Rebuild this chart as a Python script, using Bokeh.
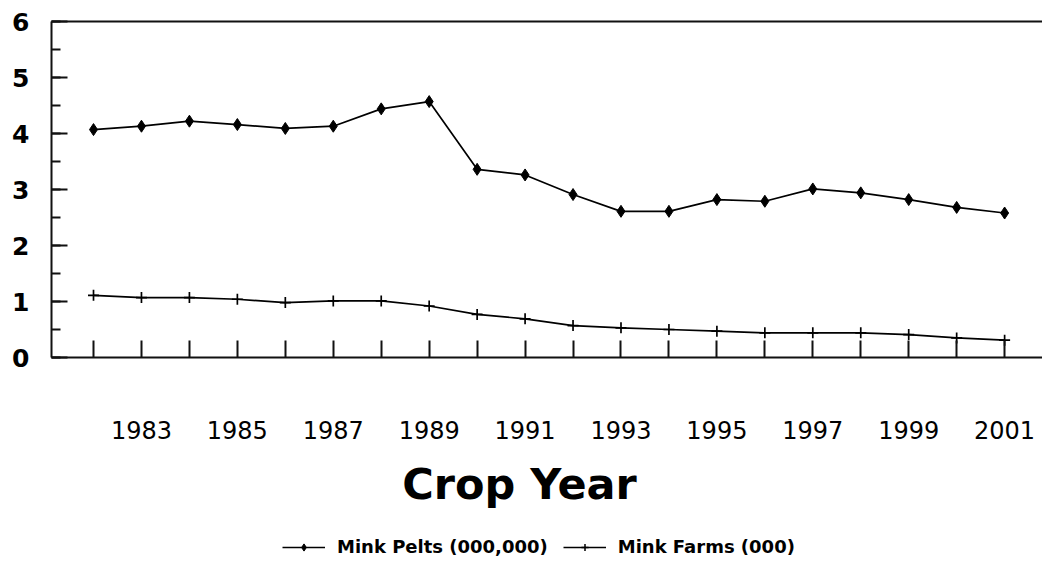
from bokeh.plotting import figure
from bokeh.layouts import column
from bokeh.models import Range1d, FixedTicker, SingleIntervalTicker, LinearAxis, Legend, LegendItem, Label
from bokeh.embed import file_html
from bokeh.resources import INLINE

years = list(range(1982, 2002))
mink_pelts = [4.07, 4.13, 4.22, 4.16, 4.09, 4.13, 4.44, 4.57, 3.36, 3.26,
              2.91, 2.61, 2.61, 2.82, 2.79, 3.01, 2.94, 2.82, 2.68, 2.58]
mink_farms = [1.11, 1.07, 1.07, 1.04, 0.98, 1.01, 1.01, 0.92, 0.77, 0.69,
              0.57, 0.53, 0.50, 0.47, 0.44, 0.44, 0.44, 0.41, 0.35, 0.31]
x_tick_labels = {y: (str(y) if y % 2 == 1 else "") for y in years}
series_names = ["Mink Pelts (000,000)", "Mink Farms (000)"]
x_title = "Crop Year"

FONT = "DejaVu Sans"
AX = "#111111"

p = figure(width=1042, height=455,
           x_range=Range1d(1981.124, 2001.79), y_range=Range1d(0, 6),
           output_backend="svg", toolbar_location=None,
           min_border_left=51, min_border_right=0, min_border_top=21,
           min_border_bottom=98)
p.outline_line_color = None
p.xgrid.visible = False
p.ygrid.visible = False
p.background_fill_color = "white"
p.border_fill_color = "white"

# x axis
xa = p.xaxis[0]
xa.ticker = FixedTicker(ticks=years)
xa.major_label_overrides = x_tick_labels
xa.axis_line_width = 2
xa.axis_line_color = AX
xa.major_tick_in = 17
xa.major_tick_out = 0
xa.major_tick_line_width = 2
xa.major_tick_line_color = AX
xa.minor_tick_line_color = None
xa.major_label_standoff = 63
xa.major_label_text_font = FONT
xa.major_label_text_font_size = "24px"
xa.major_label_text_color = "black"

# y axis
ya = p.yaxis[0]
ya.ticker = SingleIntervalTicker(interval=1, num_minor_ticks=2)
ya.axis_line_width = 2
ya.axis_line_color = AX
ya.major_tick_in = 16
ya.major_tick_out = 0
ya.major_tick_line_width = 2
ya.major_tick_line_color = AX
ya.minor_tick_in = 9
ya.minor_tick_out = 0
ya.minor_tick_line_width = 2
ya.minor_tick_line_color = AX
ya.major_label_standoff = 22
ya.major_label_text_font = FONT
ya.major_label_text_font_style = "bold"
ya.major_label_text_font_size = "25px"
ya.major_label_text_color = "black"

# top border line only
top = LinearAxis(ticker=FixedTicker(ticks=[]), axis_line_width=2, axis_line_color=AX,
                 major_tick_in=0, major_tick_out=0, minor_tick_in=0, minor_tick_out=0,
                 major_label_text_font_size="0px")
p.add_layout(top, "above")

p.line(years, mink_pelts, line_color="black", line_width=1.7)
p.scatter(years, mink_pelts, marker="diamond", size=12, fill_color="black", line_color="black")
p.line(years, mink_farms, line_color="black", line_width=1.7)
p.scatter(years, mink_farms, marker="cross", size=11, line_color="black", line_width=1.7)

# bottom strip: axis title and legend (its renderers lie outside its visible ranges)
lf = figure(width=1042, height=115, x_range=Range1d(0, 1), y_range=Range1d(100, 101),
            x_axis_location=None, y_axis_location=None,
            output_backend="svg", toolbar_location=None,
            min_border_left=0, min_border_right=0, min_border_top=0, min_border_bottom=0)
lf.grid.visible = False
lf.outline_line_color = None
lf.background_fill_color = "white"
lf.border_fill_color = "white"

lf.add_layout(Label(x=468, y=87, x_units="screen", y_units="screen", text=x_title,
                    text_align="center", text_baseline="alphabetic",
                    text_font=FONT, text_font_style="bold", text_font_size="43px",
                    text_color="black"))

l1 = lf.line(years, mink_pelts, line_color="black", line_width=1.5)
s1 = lf.scatter(years, mink_pelts, marker="diamond", size=10, fill_color="black", line_color="black")
l2 = lf.line(years, mink_farms, line_color="black", line_width=1.5)
s2 = lf.scatter(years, mink_farms, marker="cross", size=10, line_color="black", line_width=1.5)

legend = Legend(items=[LegendItem(label=series_names[0], renderers=[l1, s1]),
                       LegendItem(label=series_names[1], renderers=[l2, s2])],
                orientation="horizontal", location=(231, 13),
                glyph_width=43, glyph_height=18, label_height=18, label_standoff=12,
                spacing=15, padding=0, margin=0,
                border_line_color=None, background_fill_alpha=0,
                label_text_font=FONT, label_text_font_style="bold",
                label_text_font_size="18px", label_text_color="black")
lf.add_layout(legend, "center")

open("out.html", "w").write(file_html(column(p, lf, spacing=0), INLINE))
